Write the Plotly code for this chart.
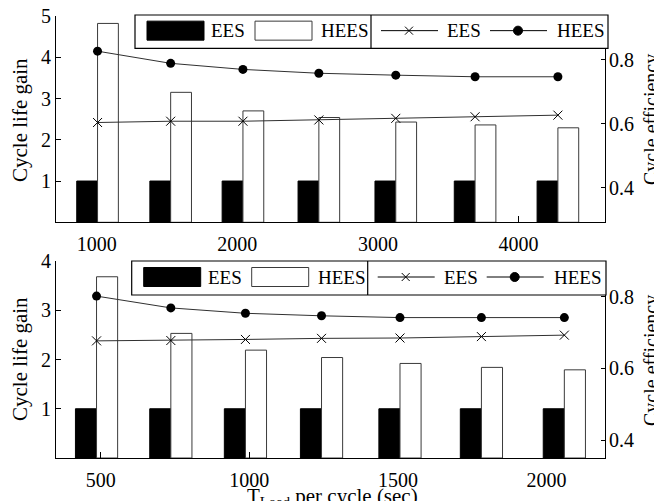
import plotly.graph_objects as go

# ---------------- data ----------------
top_x = [1006, 1526, 2040, 2580, 3127, 3691, 4280]
top_gain_ees = [1, 1, 1, 1, 1, 1, 1]
top_gain_hees = [4.82, 3.15, 2.70, 2.54, 2.43, 2.36, 2.29]
top_eff_ees = [0.604, 0.608, 0.608, 0.612, 0.617, 0.622, 0.627]
top_eff_hees = [0.827, 0.789, 0.770, 0.758, 0.752, 0.747, 0.747]
top_xticks = [1000, 2000, 3000, 4000]

bot_x = [486, 736, 987, 1243, 1507, 1781, 2060]
bot_gain_ees = [1, 1, 1, 1, 1, 1, 1]
bot_gain_hees = [3.68, 2.53, 2.19, 2.04, 1.92, 1.84, 1.79]
bot_eff_ees = [0.677, 0.678, 0.681, 0.684, 0.685, 0.689, 0.693]
bot_eff_hees = [0.802, 0.769, 0.754, 0.747, 0.742, 0.742, 0.742]
bot_xticks = [500, 1000, 1500, 2000]

gain_ticks_top = [1, 2, 3, 4, 5]
gain_ticks_bot = [1, 2, 3, 4]
eff_ticks = [0.4, 0.6, 0.8]

# ---------------- layout constants ----------------
OFF = 8  # page body margin
W, H = 654, 493
PL, PR, PT, PB = 56, 605, 16, 458  # plot area in page pixels
ML, MR, MT, MB = PL - OFF, W - (PR - OFF), PT - OFF, H - (PB - OFF)
PW = W - ML - MR
PH = H - MT - MB
FONT = "Liberation Serif"


def fx(px):
    return (px - PL) / PW


def fy(py):
    return (PB - py) / PH


top_dom = [fy(222.3), 1.0]
bot_dom = [0.0, fy(261)]

top_w = 148
bot_w = 71

fig = go.Figure()

LINE_COL = "#303030"


def add_panel(xs, ees, hees, eff_e, eff_h, w, xa, ya, ya2):
    fig.add_trace(go.Bar(x=xs, y=ees, width=[w] * len(xs), offset=-w,
                         marker=dict(color="black", line=dict(color="black", width=1)),
                         xaxis=xa, yaxis=ya, showlegend=False))
    fig.add_trace(go.Bar(x=xs, y=hees, width=[w] * len(xs), offset=0,
                         marker=dict(color="white", line=dict(color="#3a3a3a", width=1)),
                         xaxis=xa, yaxis=ya, showlegend=False))
    fig.add_trace(go.Scatter(x=xs, y=eff_e, mode="lines+markers",
                             line=dict(color=LINE_COL, width=1),
                             marker=dict(symbol="x-thin", size=9, color="black",
                                         line=dict(color="black", width=1)),
                             xaxis=xa, yaxis=ya2, showlegend=False))
    fig.add_trace(go.Scatter(x=xs, y=eff_h, mode="lines+markers",
                             line=dict(color=LINE_COL, width=1),
                             marker=dict(symbol="circle", size=9, color="black"),
                             xaxis=xa, yaxis=ya2, showlegend=False))


add_panel(top_x, top_gain_ees, top_gain_hees, top_eff_ees, top_eff_hees, top_w, "x", "y", "y2")
add_panel(bot_x, bot_gain_ees, bot_gain_hees, bot_eff_ees, bot_eff_hees, bot_w, "x2", "y3", "y4")

tickfont = dict(family=FONT, size=20, color="black")
axis_common = dict(showline=True, linecolor="black", linewidth=1, ticks="inside",
                   tickcolor="black", showgrid=False, zeroline=False, tickfont=tickfont,
                   automargin=False, ticklabeloverflow="allow")

fig.update_layout(
    template="none",
    width=W, height=H,
    margin=dict(l=ML, r=MR, t=MT, b=MB, pad=0),
    paper_bgcolor="white", plot_bgcolor="white",
    barmode="overlay", showlegend=False,
    font=dict(family=FONT, color="black"),
    xaxis=dict(domain=[0, 1], anchor="y", range=[710.5, 4615], tickvals=top_xticks,
               ticklen=6, ticklabelstandoff=4, **axis_common),
    yaxis=dict(domain=top_dom, anchor="x", range=[0, 5], tickvals=gain_ticks_top,
               ticklen=5, **axis_common),
    yaxis2=dict(overlaying="y", side="right", anchor="x", range=[0.292, 0.937],
                tickvals=eff_ticks, tickformat=".1f", ticklen=4, ticklabelstandoff=-1,
                **axis_common),
    xaxis2=dict(domain=[0, 1], anchor="y3", range=[349.6, 2196.8], tickvals=bot_xticks,
                ticklen=6, ticklabelstandoff=4, **axis_common),
    yaxis3=dict(domain=bot_dom, anchor="x2", range=[0, 4], tickvals=gain_ticks_bot,
                ticklen=5, **axis_common),
    yaxis4=dict(overlaying="y3", side="right", anchor="x2", range=[0.35, 0.90],
                tickvals=eff_ticks, tickformat=".1f", ticklen=4, ticklabelstandoff=-1,
                **axis_common),
)

shapes = []
annots = []


def legend(L, T, R, B):
    cy = (T + B) / 2 - 1
    shapes.append(dict(type="rect", xref="paper", yref="paper", x0=fx(L), x1=fx(R),
                       y0=fy(B), y1=fy(T), fillcolor="white",
                       line=dict(color="black", width=1.2), layer="above"))
    shapes.append(dict(type="line", xref="paper", yref="paper", x0=fx(L + 236), x1=fx(L + 236),
                       y0=fy(B), y1=fy(T), line=dict(color="black", width=1.2), layer="above"))
    # bar swatches
    shapes.append(dict(type="rect", xref="paper", yref="paper", x0=fx(L + 12), x1=fx(L + 69),
                       y0=fy(cy + 9.5), y1=fy(cy - 9.5), fillcolor="black",
                       line=dict(color="black", width=1), layer="above"))
    shapes.append(dict(type="rect", xref="paper", yref="paper", x0=fx(L + 120), x1=fx(L + 177),
                       y0=fy(cy + 9.5), y1=fy(cy - 9.5), fillcolor="white",
                       line=dict(color="#3a3a3a", width=1), layer="above"))
    # line swatches
    for a, b in [(L + 246, L + 303), (L + 355, L + 412)]:
        shapes.append(dict(type="line", xref="paper", yref="paper", x0=fx(a), x1=fx(b),
                           y0=fy(cy), y1=fy(cy), line=dict(color="black", width=1),
                           layer="above"))
    mx = fx(L + 274)
    for s in (1, -1):
        shapes.append(dict(type="line", xref="paper", yref="paper", xsizemode="pixel",
                           ysizemode="pixel", xanchor=mx, yanchor=fy(cy),
                           x0=-4, x1=4, y0=-4 * s, y1=4 * s,
                           line=dict(color="black", width=1), layer="above"))
    shapes.append(dict(type="circle", xref="paper", yref="paper", xsizemode="pixel",
                       ysizemode="pixel", xanchor=fx(L + 383), yanchor=fy(cy),
                       x0=-4.5, x1=4.5, y0=-4.5, y1=4.5, fillcolor="black",
                       line=dict(color="black", width=1), layer="above"))
    for txt, off in [("EES", 74), ("HEES", 184), ("EES", 310), ("HEES", 420)]:
        annots.append(dict(text=txt, xref="paper", yref="paper", x=fx(L + off), y=fy(cy),
                           xanchor="left", yanchor="middle", showarrow=False,
                           font=dict(family=FONT, size=19, color="black")))


legend(135, 15, 608, 48.3)
legend(131.7, 261, 606, 295)

title_font_l = dict(family=FONT, size=21, color="black")
title_font_r = dict(family=FONT, size=20, color="black")
for cy in (120, 359):
    annots.append(dict(text="Cycle life gain", xref="paper", yref="paper", x=fx(20), y=fy(cy),
                       xanchor="center", yanchor="middle", textangle=-90, showarrow=False,
                       font=title_font_l))
for cy in (120, 361):
    annots.append(dict(text="Cycle efficiency", xref="paper", yref="paper", x=fx(651), y=fy(cy),
                       xanchor="center", yanchor="middle", textangle=-90, showarrow=False,
                       font=title_font_r))
annots.append(dict(text="T<sub>Load</sub> per cycle (sec)", xref="paper", yref="paper",
                   x=fx(245), y=fy(482), xanchor="left", yanchor="top", showarrow=False,
                   font=dict(family=FONT, size=21, color="black")))

fig.update_layout(shapes=shapes, annotations=annots)
fig.write_html("out.html")
